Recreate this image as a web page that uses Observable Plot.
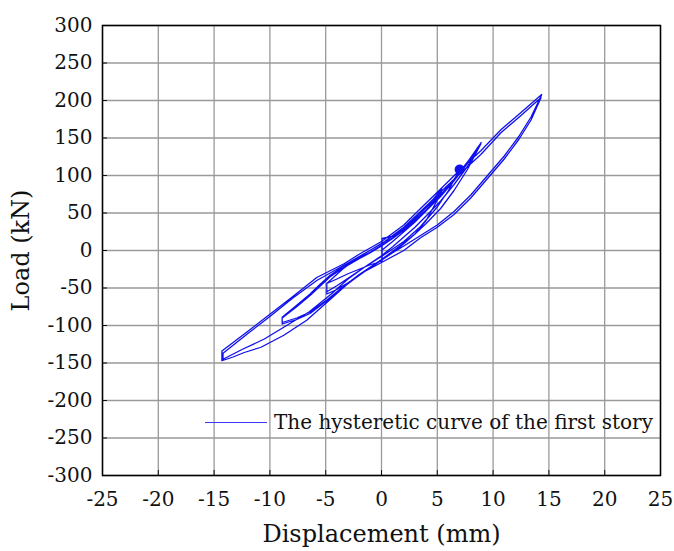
<!DOCTYPE html>
<html>
<head>
<meta charset="utf-8">
<script src="https://cdn.jsdelivr.net/npm/d3@7"></script>
<script src="https://cdn.jsdelivr.net/npm/@observablehq/plot@0.6"></script>
<style>
  html, body { margin: 0; padding: 0; background: #fff; }
  #wrap { position: relative; width: 674px; height: 551px; }
  #legend { position: absolute; left: 205px; top: 410px; font-family: "DejaVu Serif", serif; font-size: 20px; white-space: nowrap; display: flex; align-items: center; color: #111; }
  #legend .sw { display: inline-block; width: 62px; height: 0; border-top: 1px solid #3a3af2; margin-right: 7px; }
</style>
</head>
<body>
<div id="wrap">
  <div id="chart"></div>
  <div id="legend"><span class="sw"></span><span>The hysteretic curve of the first story</span></div>
</div>
<script>
// Tick values
const xTicks = [-25, -20, -15, -10, -5, 0, 5, 10, 15, 20, 25];
const yTicks = [-300, -250, -200, -150, -100, -50, 0, 50, 100, 150, 200, 250, 300];

// Hysteresis record, half-cycle by half-cycle: [displacement (mm), load (kN)]
const seg0 = [[0,0],[1,12],[2,25],[3,38],[4.2,56],[5.4,82]];
const seg1 = [[4.5,66],[3.2,46],[2,30],[1,19],[0.05,16],[0.05,-14],[-1,-19],[-2,-25],[-3,-31],[-4,-38],[-4.9,-44],[-4.9,-58]];
const seg2 = [[-4,-52],[-3,-43],[-2,-33],[-1,-23],[0,-13],[1,-3],[2,9],[3,22],[4,40],[5.4,78]];
const seg3 = [[4.5,64],[3.5,50],[2.5,37],[1.5,25],[0.5,14],[-0.5,5],[-1.5,-4],[-2.5,-14],[-3.5,-25],[-4.9,-44],[-4.9,-55]];
const seg4 = [[-4,-47],[-3,-37],[-2,-27],[-1,-17],[0,-7],[1,5],[2,18],[3,31],[4,46],[5.3,66],[6.5,88],[7.7,112],[8.93,144]];
const seg5 = [[7.7,118],[6.5,95],[5.3,74],[4,54],[3,41],[2,28],[1,17],[0,7],[-1,-2],[-2,-10],[-3.5,-22],[-4.6,-33],[-5.5,-45],[-6.4,-58],[-7.6,-73],[-8.9,-89],[-8.9,-98]];
const seg6 = [[-7.6,-92],[-6.4,-84],[-4.9,-67],[-3.5,-50],[-2,-33],[-1,-22],[0,-12],[1,-1],[2,10],[3,22],[4,36],[5.3,56],[6.5,80],[7.7,108],[8.9,142]];
const seg7 = [[7.7,116],[6.5,93],[5.3,72],[4,53],[3,40],[2,27],[1,16],[0,6],[-1,-3],[-2,-11],[-3.5,-24],[-4.6,-35],[-6.4,-60],[-7.6,-75],[-8.9,-90],[-8.9,-96]];
const seg8 = [[-7.6,-90],[-6.4,-82],[-4.9,-66],[-3.5,-49],[-2,-32],[0,-12],[2,6],[3.5,20],[5,34],[6.5,52],[8,74],[9.5,100],[11,126],[12.3,152],[13.4,178],[14.3,206]];
const seg9 = [[14.35,208],[12.5,184],[10.7,161],[8.9,133],[7,107],[5.3,82],[3.5,56],[2,34],[0,12],[-2,-5],[-3.4,-18],[-5.8,-36],[-8,-62],[-10,-85],[-12,-108],[-14.3,-134],[-14.3,-147]];
const seg10 = [[-13.3,-142],[-12.3,-136],[-10.8,-129],[-8.75,-113],[-6.7,-93],[-4.5,-64],[-3,-44],[-1.5,-28],[0,-16],[2,0],[3.5,17],[5,31],[6.5,48],[8,70],[9.5,96],[11,122],[12.3,148],[13.4,174],[14.3,204]];
const seg11 = [[12.5,180],[10.7,157],[8.9,128],[7,102],[5.3,78],[3.5,52],[2,31],[0,9],[-2,-8],[-3.4,-20],[-5.8,-40],[-8,-64],[-10,-88],[-12,-111],[-14.2,-137],[-14.2,-145]];
const seg12 = [[-12.5,-132],[-10.5,-118],[-8.5,-100],[-6.5,-82],[-4.5,-58],[-3,-38],[-1.5,-22],[0,-8],[2,12],[3.5,32],[5,58],[6,80],[7,108]];
const endPoint = [[7,108]];

const segments = [seg0, seg1, seg2, seg3, seg4, seg5, seg6, seg7, seg8, seg9, seg10, seg11, seg12];
const record = segments.flat().map(([x, y]) => ({x, y}));
const marker = endPoint.map(([x, y]) => ({x, y}));

const blue = "#1010ee";
const fmt = d => String(d);

const chart = Plot.plot({
  width: 674,
  height: 551,
  marginLeft: 102,
  marginRight: 14,
  marginTop: 25,
  marginBottom: 76,
  style: { fontFamily: "DejaVu Serif, serif", fontSize: "20px", background: "white", color: "#111" },
  x: { domain: [-25, 25] },
  y: { domain: [-300, 300] },
  marks: [
    Plot.gridX(xTicks, { stroke: "#9a9a9a", strokeOpacity: 1, strokeWidth: 1.3 }),
    Plot.gridY(yTicks, { stroke: "#9a9a9a", strokeOpacity: 1, strokeWidth: 1.3 }),
    Plot.axisX(xTicks, { tickSize: -5, tickPadding: 21, tickFormat: fmt, label: "Displacement (mm)", labelAnchor: "center", labelArrow: "none", labelOffset: 66, fontSize: 20 }),
    Plot.axisY(yTicks, { tickSize: -5, tickPadding: 15, tickFormat: fmt, label: "Load (kN)", labelAnchor: "center", labelArrow: "none", labelOffset: 91, fontSize: 20 }),
    Plot.line(record, { x: "x", y: "y", stroke: blue, strokeWidth: 1.3, curve: "linear" }),
    Plot.dot(marker, { x: "x", y: "y", r: 5, fill: blue, stroke: "none" }),
    Plot.frame({ stroke: "black", strokeWidth: 1.5 })
  ]
});
document.getElementById("chart").appendChild(chart);
// larger axis titles
chart.querySelectorAll("g[aria-label='x-axis label'] text, g[aria-label='y-axis label'] text").forEach(t => t.setAttribute("font-size", "24"));
</script>
</body>
</html>
